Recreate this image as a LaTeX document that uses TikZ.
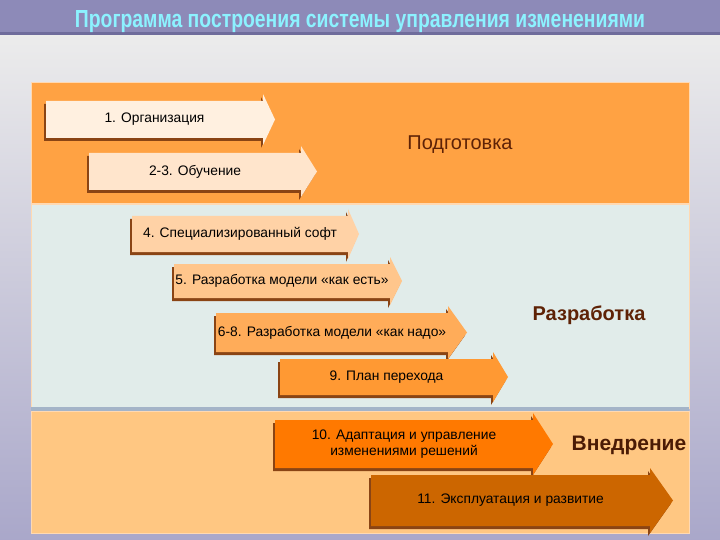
\documentclass[tikz,border=0pt]{standalone}
\usepackage{fontspec}
\setmainfont{Liberation Sans}
\usepackage{graphicx}
\definecolor{barlilac}{HTML}{8D8AB8}
\definecolor{barline}{HTML}{6F6C9C}
\definecolor{titlecyan}{HTML}{8CF2FF}
\definecolor{prepband}{HTML}{FFA243}
\definecolor{devband}{HTML}{E1ECEA}
\definecolor{implband}{HTML}{FFC782}
\definecolor{bandrule}{HTML}{A4B4C8}
\definecolor{stageshadow}{HTML}{8A4414}
\definecolor{labelbrown}{HTML}{5E2206}
\newcommand{\stagearrow}[8]{\fill[stageshadow,shift={(-2,3)}] (#2,#3) -- (#4,#3) -- (#4,#3-7) -- (#6,{(#3+#5)/2}) -- (#4,#5+7) -- (#4,#5) -- (#2,#5) -- cycle;
	\fill[#7] (#2,#3) -- (#4,#3) -- (#4,#3-7) -- (#6,{(#3+#5)/2}) -- (#4,#5+7) -- (#4,#5) -- (#2,#5) -- cycle;
	\node[stagetext] (#1) at ({(#2+#4)/2},{(#3+#5)/2}) {#8};}

\begin{document}
\begin{tikzpicture}[x=1pt,y=-1pt,
		stagetext/.style={font=\fontsize{13.8}{15.5}\selectfont,align=center,inner sep=0pt},
		phaselabel/.style={font=\fontsize{20}{22}\selectfont,text=labelbrown},
		band/.style={draw=white!70!orange,line width=0.6pt}]
	\useasboundingbox (0,0) rectangle (720,540);
	\shade[top color=gray!15,bottom color=barlilac!75] (0,34) rectangle (720,540);
	\fill[barlilac] (0,0) rectangle (720,32);
	\fill[barline] (0,32) rectangle (720,35);
	\node[text=titlecyan,anchor=base] (title) at (360,28) {\resizebox{570pt}{17pt}{\bfseries Программа построения системы управления изменениями}};
	\fill[prepband,band] (31,82) rectangle (689,203);
	\fill[devband,band] (31,204) rectangle (689,408);
	\fill[implband,band] (31,411) rectangle (689,533);
	\fill[bandrule] (31,407) rectangle (689,411);
	\node[phaselabel] (prep) at (460,145) {Подготовка};
	\node[phaselabel,font=\fontsize{20}{22}\selectfont\bfseries] (dev) at (589,315) {Разработка};
	\node[phaselabel,font=\fontsize{21}{23}\selectfont\bfseries,text=labelbrown!80!black] (impl) at (629,445) {Внедрение};
	\stagearrow{org}{46}{101}{263}{138}{275}{fill=orange!12}{1. Организация}
	\stagearrow{train}{89}{153}{301}{190}{317}{fill=orange!20}{2-3. Обучение}
	\stagearrow{soft}{132}{216}{348}{252}{359}{fill=orange!35}{4. Специализированный софт}
	\stagearrow{asis}{174}{264}{390}{298}{402}{fill=orange!45}{5. Разработка модели «как есть»}
	\stagearrow{tobe}{216}{313}{448}{352}{467}{fill=orange!65}{6-8. Разработка модели «как надо»}
	\stagearrow{plan}{280}{359}{493}{395}{508}{fill=orange!80}{9. План перехода}
	\stagearrow{adapt}{275}{420}{533}{468}{553}{fill=orange!95!red}{10. Адаптация и управление\\изменениями решений}
	\stagearrow{oper}{371}{475}{650}{526}{673}{fill=orange!80!black}{11. Эксплуатация и развитие}
\end{tikzpicture}
\end{document}
